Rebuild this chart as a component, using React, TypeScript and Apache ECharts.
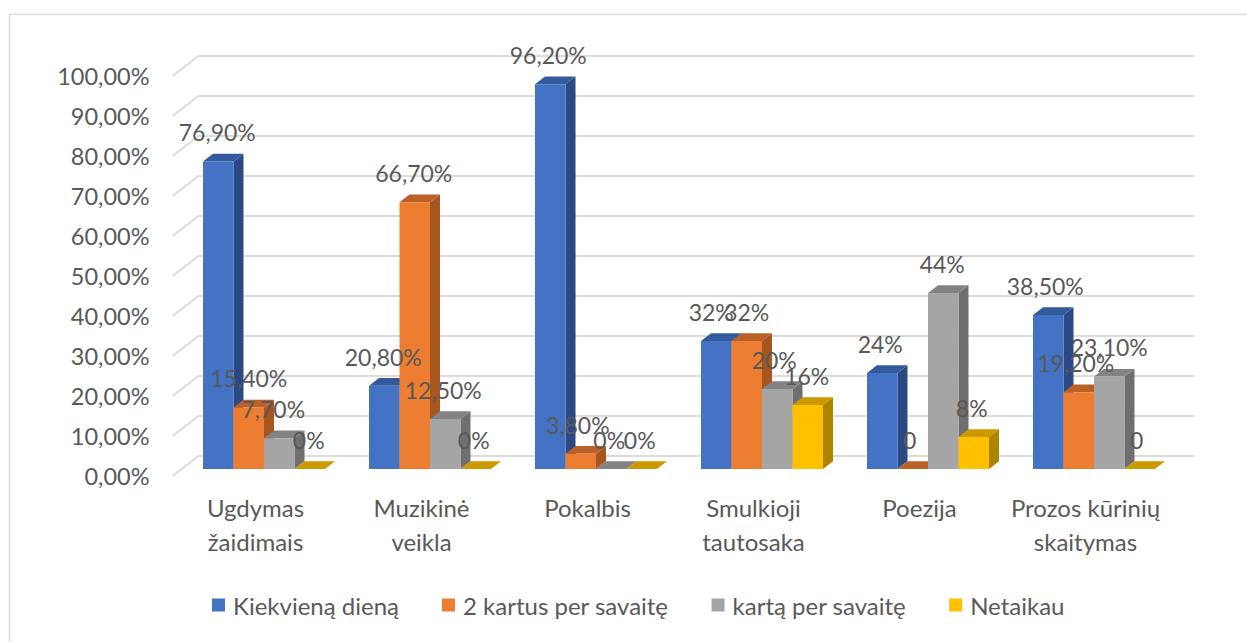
import React, { useEffect, useRef } from "react";
import * as echarts from "echarts";

const categories = ["Ugdymas\nžaidimais", "Muzikinė\nveikla", "Pokalbis", "Smulkioji\ntautosaka", "Poezija", "Prozos kūrinių\nskaitymas"];
const seriesNames = ["Kiekvieną dieną", "2 kartus per savaitę", "kartą per savaitę", "Netaikau"];
const kiekviena = [76.9, 20.8, 96.2, 32, 24, 38.5];
const duKartus = [15.4, 66.7, 3.8, 32, 0, 19.2];
const karta = [7.7, 12.5, 0, 20, 44, 23.1];
const netaikau = [0, 0, 0, 16, 8, 0];
const kiekvienaLabels = ["76,90%", "20,80%", "96,20%", "32%", "24%", "38,50%"];
const duKartusLabels = ["15,40%", "66,70%", "3,80%", "32%", "0", "19,20%"];
const kartaLabels = ["7,70%", "12,50%", "0%", "20%", "44%", "23,10%"];
const netaikauLabels = ["0%", "0%", "0%", "16%", "8%", "0"];

const allValues = [kiekviena, duKartus, karta, netaikau];
const allLabels = [kiekvienaLabels, duKartusLabels, kartaLabels, netaikauLabels];

const front = ["#4472C4", "#ED7D31", "#A5A5A5", "#FFC000"];
const side = ["#2B4A85", "#A6561F", "#6F6F6F", "#AD8400"];
const top = ["#345A9E", "#BB6127", "#838383", "#CC9A00"];
const TEXT = "#595959";
const GRID = "#DCDCDC";
const FONT = "Lato, sans-serif";

// pseudo-3D projection, in pixels
const WALL_DX = 26, WALL_DY = -20; // depth of the floor
const BAR_X = 8.5, BAR_Y = -7;     // bars stand inside the floor
const BAR_DX = 10, BAR_DY = -7.7;  // depth of a bar
const BAR_W = 30.5;

// label nudges by [category][series]
const labelDx = [
  [-1, 0, -6, -1],
  [-1, -1, -2, -2],
  [-2, -3, -2, -2],
  [-5, 0, -3, -1],
  [-2, -3, -1, -2],
  [-3, -3, 0, -3],
];

function App() {
  const ref = useRef<HTMLDivElement>(null);
  useEffect(() => {
    const chart = echarts.init(ref.current!, undefined, { renderer: "svg" });

    const barSeries = allValues.map((vals, s) => ({
      name: seriesNames[s],
      type: "custom",
      coordinateSystem: "cartesian2d",
      z: 3,
      itemStyle: { color: front[s] },
      encode: { x: 0, y: 1 },
      data: vals.map((v, i) => [i, v]),
      renderItem: (_p: any, api: any) => {
        const [cx, yTop] = api.coord([api.value(0), api.value(1)]);
        const [, yBase] = api.coord([api.value(0), 0]);
        const x0 = cx + BAR_X + (s - 2) * BAR_W;
        const x1 = x0 + BAR_W;
        const t = yTop + BAR_Y, b = yBase + BAR_Y;
        return {
          type: "group",
          children: [
            { type: "polygon", shape: { points: [[x1, t], [x1 + BAR_DX, t + BAR_DY], [x1 + BAR_DX, b + BAR_DY], [x1, b]] }, style: { fill: side[s] } },
            { type: "polygon", shape: { points: [[x0, t], [x0 + BAR_DX, t + BAR_DY], [x1 + BAR_DX, t + BAR_DY], [x1, t]] }, style: { fill: top[s] } },
            { type: "rect", shape: { x: x0, y: t, width: BAR_W, height: b - t }, style: { fill: front[s] } },
          ],
        };
      },
    }));

    const labelData: any[] = [];
    allValues.forEach((vals, s) => vals.forEach((v, i) => labelData.push([i, v, s])));

    const option: any = {
      animation: false,
      backgroundColor: "#fff",
      textStyle: { fontFamily: FONT },
      grid: { left: 172.5, top: 76, width: 996, height: 400, containLabel: false },
      legend: {
        left: 207,
        top: 588,
        itemWidth: 13,
        itemHeight: 13,
        itemGap: 43,
        icon: "rect",
        data: seriesNames,
        selectedMode: false,
        textStyle: { fontSize: 24, color: TEXT, fontFamily: FONT, padding: [0, 0, 0, 3] },
      },
      xAxis: {
        type: "category",
        data: categories,
        axisLine: { show: false },
        axisTick: { show: false },
        axisLabel: { color: TEXT, fontSize: 24, lineHeight: 34, margin: 14, interval: 0, fontFamily: FONT },
      },
      yAxis: {
        type: "value",
        min: 0,
        max: 100,
        interval: 10,
        axisLine: { show: false },
        axisTick: { show: false },
        splitLine: { show: false },
        axisLabel: { color: TEXT, fontSize: 23.5, margin: 23, padding: [0, 0, 4, 0], fontFamily: FONT, formatter: (v: number) => v.toFixed(2).replace(".", ",") + "%" },
      },
      graphic: [
        { type: "polyline", shape: { points: [[9.5, 642], [9.5, 14.5], [1247, 14.5]] }, style: { stroke: GRID, lineWidth: 1.5, fill: "none" }, silent: true },
      ],
      series: [
        {
          name: "grid",
          type: "custom",
          coordinateSystem: "cartesian2d",
          z: 1,
          silent: true,
          data: [0, 10, 20, 30, 40, 50, 60, 70, 80, 90, 100].map((v) => [0, v]),
          encode: { y: 1 },
          renderItem: (p: any, api: any) => {
            const [, y] = api.coord([0, api.value(1)]);
            const l = p.coordSys.x, r = l + p.coordSys.width;
            return {
              type: "polyline",
              shape: { points: [[l, y], [l + WALL_DX, y + WALL_DY], [r + WALL_DX, y + WALL_DY]] },
              style: { stroke: GRID, lineWidth: 2, fill: "none" },
            };
          },
        },
        ...barSeries,
        {
          name: "labels",
          type: "custom",
          coordinateSystem: "cartesian2d",
          z: 5,
          silent: true,
          data: labelData,
          encode: { x: 0, y: 1 },
          renderItem: (_p: any, api: any) => {
            const i = api.value(0), s = api.value(2);
            const [cx, yTop] = api.coord([i, api.value(1)]);
            return {
              type: "text",
              x: cx + BAR_X + (s - 1.5) * BAR_W + labelDx[i][s],
              y: yTop + BAR_Y + BAR_DY - 21.5,
              style: { text: allLabels[s][i], fill: TEXT, fontSize: 23, fontFamily: FONT, align: "center", verticalAlign: "middle" },
            };
          },
        },
      ],
    };
    chart.setOption(option);
    return () => chart.dispose();
  }, []);
  return <div ref={ref} style={{ position: "fixed", left: 0, top: 0, width: 1247, height: 642 }} />;
}

export default App;
